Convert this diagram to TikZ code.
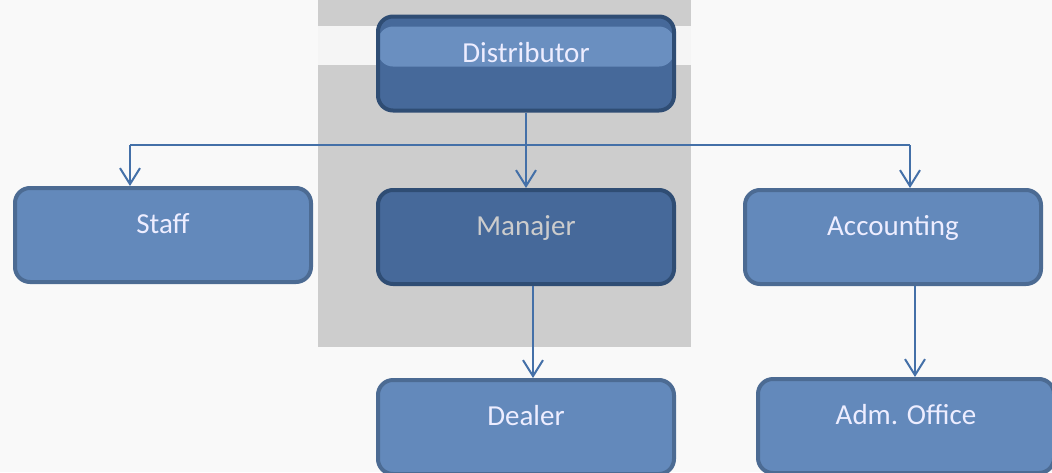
\documentclass[tikz,border=0pt]{standalone}
\usepackage{fontspec}
\setmainfont{Carlito}
\usetikzlibrary{arrows.meta}
\definecolor{boxlight}{HTML}{6389BB}
\definecolor{boxdark}{HTML}{46699A}
\definecolor{bandblue}{HTML}{6A8FC0}
\definecolor{rimlight}{HTML}{4C6B93}
\definecolor{rimdark}{HTML}{2F4D74}
\definecolor{linkblue}{HTML}{4470A8}
\definecolor{panelgray}{HTML}{CDCDCD}
\tikzset{
    unit/.style={rounded corners=15pt, line width=4pt, minimum width=296pt,
        minimum height=94pt, text height=19pt, text depth=22pt,
        font=\fontsize{29}{35}\selectfont, text=white!93!blue},
    unitlight/.style={unit, fill=boxlight, draw=rimlight},
    unitdark/.style={unit, fill=boxdark, draw=rimdark},
    link/.style={linkblue, line width=2pt, -{Straight Barb[length=16pt,width=20pt]}},
}

\begin{document}
\begin{tikzpicture}[x=1pt,y=-1pt]
\useasboundingbox[fill=gray!5] (0,0) rectangle (1052,472);
\fill[panelgray] (318,0) rectangle (691,347);
\fill[gray!8] (318,26) rectangle (691,65);

\node[unitdark, path picture={\fill[bandblue] ([yshift=-10pt]path picture bounding box.north west)
    rectangle ([yshift=-50pt]path picture bounding box.north east);}] (dist) at (526,63.5) {Distributor};
\node[unitlight] (staff) at (163,235) {Staff};
\node[unitdark, text=gray!40] (man) at (526,237) {Manajer};
\node[unitlight] (acc) at (893,237) {Accounting};
\node[unitlight] (deal) at (526,427) {Dealer};
\node[unitlight] (adm) at (906,426) {Adm. Office};

\coordinate (busl) at (130,145);
\coordinate (busr) at (910,145);
\draw[linkblue, line width=2pt] (busl) -- (busr);
\draw[link] (dist) -- (man);
\draw[link] (busl) -- (busl |- staff.north);
\draw[link] (busr) -- (busr |- acc.north);
\draw[link] ([xshift=7pt]man.south) -- ([xshift=7pt]deal.north);
\draw[link] ([xshift=22pt]acc.south) -- ([xshift=22pt]acc.south |- adm.north);
\end{tikzpicture}
\end{document}
